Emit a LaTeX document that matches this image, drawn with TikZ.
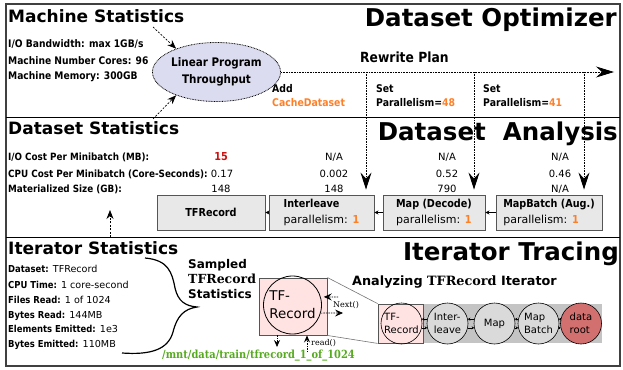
\documentclass[tikz,border=0pt]{standalone}
\usepackage{fontspec}
\setmainfont{DejaVu Sans}
\newfontfamily\cnd[FakeStretch=0.88]{DejaVu Sans}
\newfontfamily\dsr{DejaVu Serif}
\newfontfamily\dsrc[FakeStretch=0.88]{DejaVu Serif}
\usetikzlibrary{arrows.meta,shapes.geometric}
\definecolor{orng}{HTML}{FF7F27}
\definecolor{redv}{HTML}{CC1111}
\definecolor{grn}{HTML}{55AA1E}
\definecolor{lav}{HTML}{DCDCF0}
\definecolor{boxg}{HTML}{E8E8E8}
\definecolor{boxbd}{HTML}{555555}
\definecolor{pinkf}{HTML}{FFE2E2}
\definecolor{stripg}{HTML}{C4C4C4}
\definecolor{circg}{HTML}{DADADA}
\definecolor{rootr}{HTML}{D27070}
\tikzset{
  lbl/.style={anchor=base west, inner sep=0pt},
  lblc/.style={anchor=base, inner sep=0pt},
  lble/.style={anchor=base east, inner sep=0pt},
  bigtitle/.style={lble, font=\fontsize{24.5}{28}\selectfont\bfseries},
  sectitle/.style={lbl, font=\fontsize{17}{20}\selectfont\bfseries},
  statlbl/.style={lbl, font=\cnd\fontsize{10.4}{12}\selectfont\bfseries},
  dslbl/.style={lbl, font=\cnd\fontsize{10}{12}\selectfont\bfseries},
  statval/.style={lblc, font=\fontsize{10}{12}\selectfont},
  itlbl/.style={lbl, font=\fontsize{9.6}{12}\selectfont},
  planlbl/.style={lbl, font=\cnd\fontsize{10.6}{12}\selectfont\bfseries},
  opbox/.style={draw=boxbd, fill=boxg, line width=0.9pt, minimum height=35pt,
    inner sep=2pt, align=left, font=\fontsize{11}{16}\selectfont},
  dsh/.style={dash pattern=on 2pt off 1.5pt, line width=0.7pt,
    -{Stealth[length=9pt,width=7pt,inset=3pt]}},
  dotln/.style={dash pattern=on 0.8pt off 0.8pt, line width=0.8pt},
  bighead/.style={-{Stealth[length=17pt,width=11pt,inset=6pt]}},
  smallar/.style={line width=0.6pt, -{Stealth[length=4pt,width=4pt]}},
  tinyar/.style={line width=0.6pt, -{Stealth[length=2.5pt,width=3pt]}},
  itc/.style={circle, draw=black, line width=0.6pt, minimum size=41pt, inner sep=0pt,
    align=left, font=\fontsize{10}{12.5}\selectfont},
  frame/.style={draw=black!75, line width=1.1pt}
}
\begin{document}
\begin{tikzpicture}[x=1pt,y=-1pt]
\useasboundingbox (0,0) rectangle (623,369);
% frame and dividers
\draw[frame] (6,4) rectangle (620,366);
\draw[line width=1pt] (6,117) -- (620,117);
\draw[line width=1pt] (6,237) -- (620,237);

% ---------------- Dataset Optimizer ----------------
\node[sectitle] (mstitle) at (8,23) {Machine Statistics};
\node[bigtitle] (dotitle) at (617,27) {Dataset Optimizer};
\node[statlbl] (m1) at (8,48) {I/O Bandwidth: max 1GB/s};
\node[statlbl] (m2) at (8,64) {Machine Number Cores: 96};
\node[statlbl] (m3) at (8,79) {Machine Memory: 300GB};

\node[draw=black, dash pattern=on 0.8pt off 0.8pt, line width=0.8pt, fill=lav, ellipse,
  minimum width=111pt, minimum height=59pt, inner sep=0pt, align=center,
  font=\cnd\fontsize{11.8}{16.5}\selectfont\bfseries] (lp) at (216.5,72) {Linear Program\\Throughput};

\coordinate (msrc) at (153,27);
\coordinate (dsrc) at (153,119);
\draw[dsh] (msrc) -- (lp.150);
\draw[dsh] (dsrc) -- (lp.210);

\node[lbl, font=\cnd\fontsize{14}{16}\selectfont\bfseries] (rptitle) at (360,63) {Rewrite Plan};
\coordinate (rpend) at (614,72);
\draw[dotln, -{Stealth[length=18pt,width=11pt,inset=6pt]}] (lp.east) -- (rpend);

\node[planlbl] (a1) at (272,92) {Add};
\node[planlbl, text=orng] (a2) at (272,106) {CacheDataset};
\node[planlbl] (s1) at (376,92) {Set};
\node[planlbl] (s2) at (376,106) {Parallelism=\textcolor{orng}{48}};
\node[planlbl] (t1) at (483,92) {Set};
\node[planlbl] (t2) at (483,106) {Parallelism=\textcolor{orng}{41}};

% ---------------- Dataset Analysis ----------------
\node[sectitle] (dstitle) at (8,134.5) {Dataset Statistics};
\node[bigtitle] (datitle) at (618,140) {Dataset\ \ Analysis};

\node[dslbl] (d1) at (8,160) {I/O Cost Per Minibatch (MB):};
\node[dslbl] (d2) at (8,177) {CPU Cost Per Minibatch (Core-Seconds):};
\node[dslbl] (d3) at (8,192) {Materialized Size (GB):};

\node[lblc, font=\cnd\fontsize{11}{12}\selectfont\bfseries, text=redv] (c1a) at (221,160) {15};
\node[statval] (c1b) at (222,177) {0.17};
\node[statval] (c1c) at (221,192) {148};
\node[statval] (c2a) at (334,160) {N/A};
\node[statval] (c2b) at (334,177) {0.002};
\node[statval] (c2c) at (334,192) {148};
\node[statval] (c3a) at (447,160) {N/A};
\node[statval] (c3b) at (447,177) {0.52};
\node[statval] (c3c) at (447,192) {790};
\node[statval] (c4a) at (560,160) {N/A};
\node[statval] (c4b) at (560,177) {0.46};
\node[statval] (c4c) at (560,192) {N/A};

\node[opbox, minimum width=108pt] (tfr) at (211,212.5) {{\cnd\bfseries TFRecord}};
\node[opbox, minimum width=105pt] (il) at (321.5,212.5)
  {{\cnd\bfseries Interleave}\\parallelism: {\cnd\bfseries\color{orng}1}};
\node[opbox, minimum width=102pt] (mp) at (434,212.5)
  {{\cnd\bfseries Map (Decode)}\\parallelism: {\cnd\bfseries\color{orng}1}};
\node[opbox, minimum width=106pt] (mb) at (549,212.5)
  {{\cnd\bfseries MapBatch (Aug.)}\\parallelism: {\cnd\bfseries\color{orng}1}};
\draw[smallar] (il) -- (tfr);
\draw[smallar] (mp) -- (il);
\draw[smallar] (mb) -- (mp);

\coordinate (v1) at (366,72);
\coordinate (v2) at (474,72);
\coordinate (v3) at (584,72);
\draw[dotln, bighead] (v1) -- ([yshift=5pt]v1 |- il.north);
\draw[dotln, bighead] (v2) -- ([yshift=5pt]v2 |- mp.north);
\draw[dotln, bighead] (v3) -- ([yshift=5pt]v3 |- mb.north);

\coordinate (isrc) at (110,237);
\coordinate (itip) at (110,210);
\draw[dsh] (isrc) -- (itip);

% ---------------- Iterator Tracing ----------------
\node[sectitle] (ittitle) at (8,254) {Iterator Statistics};
\node[bigtitle] (trtitle) at (619,260) {Iterator Tracing};

\node[itlbl] (i1) at (8,272) {{\cnd\bfseries Dataset:} TFRecord};
\node[itlbl] (i2) at (8,288) {{\cnd\bfseries CPU Time:} 1 core-second};
\node[itlbl] (i3) at (8,303) {{\cnd\bfseries Files Read:} 1 of 1024};
\node[itlbl] (i4) at (8,318) {{\cnd\bfseries Bytes Read:} 144MB};
\node[itlbl] (i5) at (8,332) {{\cnd\bfseries Elements Emitted:} 1e3};
\node[itlbl] (i6) at (8,347) {{\cnd\bfseries Bytes Emitted:} 110MB};

\draw[line width=1.2pt] (145,258) .. controls (168,260) and (172,272) .. (175,288)
  .. controls (178,301) and (185,306) .. (197,307)
  .. controls (184,309) and (177,316) .. (173,332)
  .. controls (168,350) and (150,355) .. (122,353);

\node[lbl, font=\fontsize{12}{14}\selectfont\bfseries] (sp1) at (188,268) {Sampled};
\node[lbl, font=\dsr\fontsize{12.5}{14}\selectfont\bfseries] (sp2) at (188,283) {TFRecord};
\node[lbl, font=\fontsize{12}{14}\selectfont\bfseries] (sp3) at (188,298) {Statistics};

\node[draw=boxbd, fill=pinkf, line width=0.9pt, minimum width=68pt, minimum height=57pt,
  inner sep=0pt] (bigrec) at (293,306.5) {};
\node[circle, draw=black, line width=0.8pt, minimum size=58pt, inner sep=0pt, align=left,
  font=\fontsize{13.4}{18}\selectfont] (tfc) at (292.5,305) {TF-\\Record};

\coordinate (nxs) at (338,297);
\draw[dash pattern=on 1.5pt off 1pt, line width=0.7pt, -{Stealth[length=8pt,width=7pt,inset=3pt]},
  shorten >=3pt] (nxs) -- (tfc.16);
\node[lbl, font=\dsr\fontsize{8}{9}\selectfont] (nxl) at (333,307.5) {Next()};
\coordinate (outp) at (343,313);
\draw[dash pattern=on 1.5pt off 1pt, line width=0.7pt, -{Stealth[length=8pt,width=7pt,inset=3pt]}]
  (tfc.-16) -- (outp);

\coordinate (rd1) at (277,347);
\coordinate (rd2) at (307,352);
\draw[dash pattern=on 1.5pt off 1pt, line width=0.7pt, -{Stealth[length=7pt,width=6pt,inset=2.5pt]}]
  (bigrec.south -| rd1) -- (rd1);
\draw[dash pattern=on 1.5pt off 1pt, line width=0.7pt, -{Stealth[length=7pt,width=6pt,inset=2.5pt]}]
  (rd2) -- (rd2 |- bigrec.south);
\node[lbl, font=\dsr\fontsize{8}{9}\selectfont] (rdl) at (311,345) {read()};

\node[lbl, font=\dsrc\fontsize{11.2}{12}\selectfont\bfseries, text=grn] (path) at (162,358)
  {/mnt/data/train/tfrecord\_1\_of\_1024};

\node[lbl, font=\fontsize{12.8}{14}\selectfont\bfseries] (antitle) at (352,285)
  {Analyzing {\dsr TFRecord} Iterator};

\node[fill=stripg, minimum width=224pt, minimum height=39pt, inner sep=0pt] (strip) at (490,323.5) {};
\node[draw=boxbd, fill=pinkf, line width=0.8pt, minimum width=45pt, minimum height=39pt,
  inner sep=0pt] (smr) at (400.5,323.5) {};
\draw[black!55, line width=0.6pt] (bigrec.north east) -- (smr.north west);
\draw[black!55, line width=0.6pt] (bigrec.south east) -- (smr.south west);

\node[itc] (ctf) at (401.5,323.5) {TF-\\Record};
\node[itc, fill=circg] (cil) at (447.5,323.5) {Inter-\\leave};
\node[itc, fill=circg] (cmp) at (494.5,323.5) {Map};
\node[itc, fill=circg] (cmb) at (538.5,323.5) {Map\\Batch};
\node[itc, fill=rootr] (cdr) at (581,323.5) {data\\root};

\foreach \a/\b in {ctf/cil, cil/cmp, cmp/cmb, cmb/cdr}{
  \draw[tinyar] (\b.168) -- (\a.12);
  \draw[tinyar] (\a.-12) -- (\b.192);
}
\end{tikzpicture}
\end{document}
